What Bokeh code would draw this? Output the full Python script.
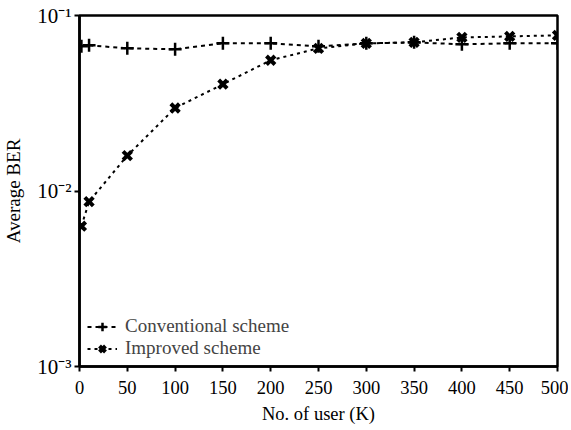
from bokeh.plotting import figure
from bokeh.models import FixedTicker, Legend, LegendItem, Range1d
from bokeh.embed import file_html
from bokeh.resources import INLINE

# Data
users_conv = [2, 10, 50, 100, 150, 200, 250, 300, 350, 400, 450, 500]
ber_conv = [0.0667, 0.0676, 0.0650, 0.0642, 0.0694, 0.0694, 0.0667, 0.0694, 0.0703, 0.0685, 0.0694, 0.0694]
users_impr = [2, 10, 50, 100, 150, 200, 250, 300, 350, 400, 450, 500]
ber_impr = [0.0063, 0.0087, 0.0159, 0.0297, 0.0406, 0.0556, 0.0650, 0.0694, 0.0703, 0.0750, 0.0760, 0.0771]
x_ticks = [0, 50, 100, 150, 200, 250, 300, 350, 400, 450, 500]
y_ticks = [0.001, 0.01, 0.1]
y_tick_labels = ["10\u207b\u00b3", "10\u207b\u00b2", "10\u207b\u00b9"]

FONT = "Liberation Serif"

p = figure(width=568, height=426, y_axis_type="log", output_backend="svg",
           toolbar_location=None, x_range=Range1d(0, 500), y_range=Range1d(0.001, 0.1),
           min_border_left=79, min_border_right=11, min_border_top=15, min_border_bottom=58)
p.grid.visible = False
p.outline_line_color = "black"
p.outline_line_width = 2.5
p.background_fill_color = "white"
p.border_fill_color = "white"

r1 = p.line(users_conv, ber_conv, line_color="black", line_width=2, line_dash="4 4")
m1 = p.scatter(users_conv, ber_conv, marker="cross", size=13, line_color="black", line_width=2.5)
r2 = p.line(users_impr, ber_impr, line_color="black", line_width=2, line_dash="3 4")
m2 = p.scatter(users_impr, ber_impr, marker="x", size=12, line_color="black", line_width=4)

p.xaxis.ticker = FixedTicker(ticks=x_ticks)
p.yaxis.ticker = FixedTicker(ticks=y_ticks, minor_ticks=[])
p.yaxis.major_label_overrides = {t: l for t, l in zip(y_ticks, y_tick_labels)}
p.xaxis.minor_tick_line_color = None
p.yaxis.minor_tick_line_color = None
for ax in (p.xaxis, p.yaxis):
    ax.axis_line_width = 2.5
    ax.major_tick_line_width = 2
    ax.major_tick_in = 0
    ax.major_tick_out = 5
    ax.major_label_text_font = FONT
    ax.major_label_text_font_size = "18.5px"
    ax.major_label_text_font_style = "normal"
    ax.major_label_text_color = "black"
    ax.axis_label_text_font = FONT
    ax.axis_label_text_font_size = "18.5px"
    ax.axis_label_text_font_style = "normal"
    ax.axis_label_text_color = "black"
p.yaxis.major_label_text_font_size = "21px"
p.yaxis.axis_label_text_font_size = "19px"
p.xaxis.axis_label = "No. of user (K)"
p.yaxis.axis_label = "Average BER"
p.xaxis.major_label_standoff = 9
p.xaxis.axis_label_standoff = 7
p.yaxis.major_label_standoff = 3
p.yaxis.axis_label_standoff = 10

legend = Legend(items=[
    LegendItem(label="Conventional scheme", renderers=[r1, m1]),
    LegendItem(label="Improved scheme", renderers=[r2, m2]),
], location=(8, 7))
legend.label_text_font = FONT
legend.label_text_font_size = "19px"
legend.label_text_font_style = "normal"
legend.border_line_color = None
legend.background_fill_alpha = 0
legend.padding = 0
legend.margin = 0
legend.spacing = 0
legend.label_height = 21
legend.glyph_height = 21
legend.glyph_width = 30
legend.label_standoff = 8
p.add_layout(legend)

open("out.html", "w").write(file_html(p, INLINE))
